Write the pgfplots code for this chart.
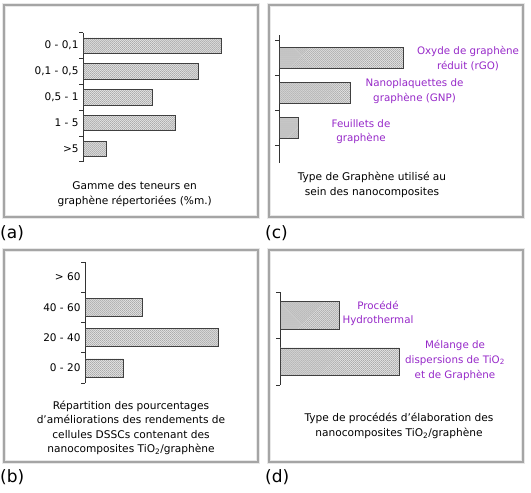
\documentclass[border=0pt]{standalone}
\usepackage{pgfplots}
\pgfplotsset{compat=1.18}
\usepackage{fontspec}
\setmainfont{DejaVu Sans}
\usetikzlibrary{patterns}
\definecolor{lblviolet}{RGB}{150,40,200}
\definecolor{boxgray}{RGB}{165,165,165}
\pgfdeclarepatternformonly{finecross}{\pgfqpoint{-0.5pt}{-0.5pt}}{\pgfqpoint{2.5pt}{2.5pt}}{\pgfqpoint{2pt}{2pt}}{%
  \pgfsetlinewidth{0.35pt}%
  \pgfpathmoveto{\pgfqpoint{0pt}{0pt}}\pgfpathlineto{\pgfqpoint{2pt}{2pt}}%
  \pgfpathmoveto{\pgfqpoint{0pt}{2pt}}\pgfpathlineto{\pgfqpoint{2pt}{0pt}}%
  \pgfusepath{stroke}}
\pgfplotsset{
  panel/.style={scale only axis, axis x line=none, axis y line*=left,
    y axis line style={-, black!80, line width=0.6pt},
    xmin=0, enlargelimits=false, xbar, bar width=0.6, clip=false,
    tick style={black!80, line width=0.6pt}, tick align=outside,
    major tick length=4bp, minor tick length=4bp,
    yticklabel style={font=\fontsize{10.5bp}{12bp}\selectfont, xshift=-1bp}},
  bars/.style={draw=black!75, line width=0.5pt, fill=gray!12, postaction={pattern=finecross, pattern color=gray!65}}
}
\newcommand{\boxpanel}[4]{%
  \draw[gray!18, line width=4bp] (#1,#2) rectangle (#3,#4);
  \draw[boxgray, line width=1.6bp] (#1,#2) rectangle (#3,#4);}
\begin{document}
\begin{tikzpicture}[x=1bp,y=1bp]
\useasboundingbox (0,0) rectangle (531,493);
\boxpanel{4}{276}{258}{488}
\boxpanel{269}{276}{523}{488}
\boxpanel{4}{31}{258}{243}
\boxpanel{269}{31}{523}{243}

% (a)
\begin{axis}[panel, at={(83bp,331.3bp)}, anchor=south west, width=161bp, height=129bp,
  xmax=7, ymin=-0.5, ymax=4.5,
  ytick={0,1,2,3,4}, major tick length=0pt,
  yticklabels={>5, 1 - 5, 0{,}5 - 1, 0{,}1 - 0{,}5, 0 - 0{,}1},
  minor ytick={-0.5,0.5,1.5,2.5,3.5,4.5}]
\addplot[bars] coordinates {(6,4) (5,3) (3,2) (4,1) (1,0)};
\end{axis}

% (b)
\begin{axis}[panel, at={(85bp,110bp)}, anchor=south west, width=152bp, height=121bp,
  xmax=8, ymin=-0.5, ymax=3.5,
  ytick={0,1,2,3}, major tick length=0pt,
  yticklabels={0 - 20, 20 - 40, 40 - 60, > 60},
  minor ytick={-0.5,0.5,1.5,2.5,3.5}]
\addplot[bars] coordinates {(3,2) (7,1) (2,0)};
\end{axis}

% (c)
\begin{axis}[panel, at={(279bp,330bp)}, anchor=south west, width=191bp, height=128bp,
  xmax=20, ymin=-1.02, ymax=2.66,
  ytick={-0.5,0.5,1.5,2.5}, yticklabels={,,,}]
\addplot[bars] coordinates {(13,2) (7.5,1) (2,0)};
\end{axis}

% (d)
\begin{axis}[panel, at={(280bp,108bp)}, anchor=south west, width=178.5bp, height=93bp,
  xmax=3, ymin=-0.5, ymax=1.5,
  ytick={-0.5,0.5,1.5}, yticklabels={,,}]
\addplot[bars] coordinates {(1,1) (2,0)};
\end{axis}

\begin{scope}[every node/.style={align=center, inner sep=0pt, font=\fontsize{10.6bp}{15bp}\selectfont}]
\node at (134.7,299) {Gamme des teneurs en\\graphène répertoriées (\%m.)};
\node at (372,308.5) {Type de Graphène utilisé au\\sein des nanocomposites};
\node[font=\fontsize{10.6bp}{14.3bp}\selectfont] at (131,65) {Répartition des pourcentages\\d’améliorations des rendements de\\cellules DSSCs contenant des\\nanocomposites TiO\textsubscript{2}/graphène};
\node[font=\fontsize{10.6bp}{14.5bp}\selectfont] at (399,67) {Type de procédés d’élaboration des\\nanocomposites TiO\textsubscript{2}/graphène};
\node[text=lblviolet, font=\fontsize{10.3bp}{15bp}\selectfont] at (468,434) {Oxyde de graphène\\réduit (rGO)};
\node[text=lblviolet, font=\fontsize{10.3bp}{15bp}\selectfont] at (414.5,402) {Nanoplaquettes de\\graphène (GNP)};
\node[text=lblviolet, font=\fontsize{10.3bp}{14bp}\selectfont] at (361,361) {Feuillets de\\graphène};
\node[text=lblviolet, font=\fontsize{10.3bp}{14bp}\selectfont] at (378,179.5) {Procédé\\Hydrothermal};
\node[text=lblviolet, font=\fontsize{10.3bp}{15bp}\selectfont] at (455,133) {Mélange de\\dispersions de TiO\textsubscript{2}\\et de Graphène};
\end{scope}
\begin{scope}[every node/.style={anchor=west, inner sep=0pt, font=\fontsize{17bp}{19bp}\selectfont}]
\node at (0,260) {(a)};
\node at (265,260) {(c)};
\node at (0,16) {(b)};
\node at (265,16) {(d)};
\end{scope}
\end{tikzpicture}
\end{document}
